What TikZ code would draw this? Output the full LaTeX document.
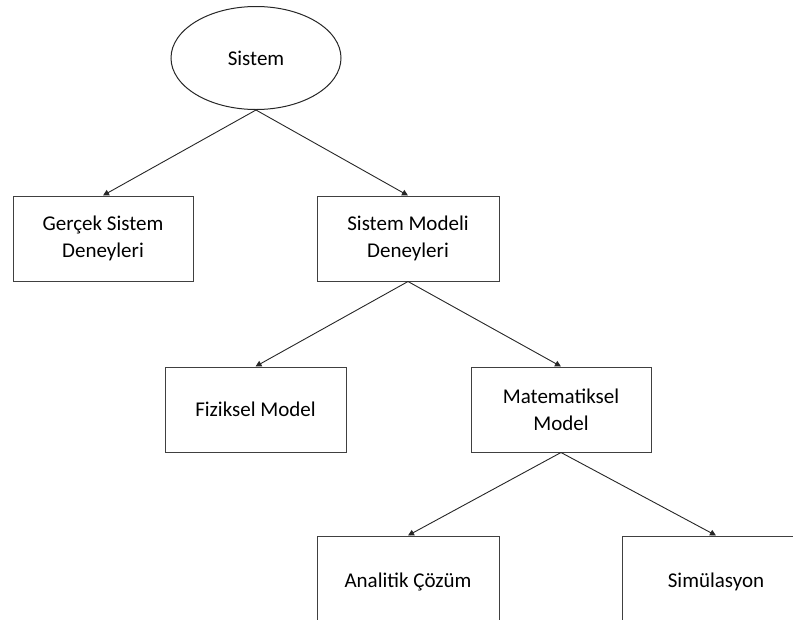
\documentclass[tikz,border=0pt]{standalone}
\usepackage{fontspec}
\setmainfont{Carlito}
\usepackage{tikz}
\usetikzlibrary{positioning, shapes.geometric, arrows.meta}

\begin{document}
\begin{tikzpicture}[
			x=1pt, y=-1pt,
			box/.style={draw=black!75, line width=1pt, rectangle, minimum height=85pt, align=center, font=\fontsize{21}{27}\selectfont},
			oval/.style={draw=black!85, line width=1pt, ellipse, minimum width=170pt, minimum height=103pt, font=\fontsize{21}{27}\selectfont},
			arr/.style={draw=black!85, line width=0.9pt, -{Triangle[length=6pt,width=6pt]}},
			]
			\useasboundingbox (0,0) rectangle (793,619);
			\clip (0,0) rectangle (793,619);
			
			%% ── Top: system ─────────────────────────────────────────────
			\node[oval] (sys) at (256,58) {Sistem};
			
			%% ── Level 1 ─────────────────────────────────────────────────
			\node[box, minimum width=180pt] (gercek) at (103,238.5) {Gerçek Sistem\\Deneyleri};
			\node[box, minimum width=182pt] (smodel) at (408,238.5) {Sistem Modeli\\Deneyleri};
			
			%% ── Level 2 ─────────────────────────────────────────────────
			\node[box, minimum width=181pt] (fizik) at (255.5,409.5) {Fiziksel Model};
			\node[box, minimum width=180pt] (mat) at (561,409.5) {Matematiksel\\Model};
			
			%% ── Level 3 (cut by the page) ───────────────────────────────
			\node[box, minimum width=182pt, minimum height=92pt] (analitik) at (408,582) {Analitik Çözüm};
			\node[box, minimum width=188pt, minimum height=92pt] (simul) at (716,582) {Simülasyon};
			
			\draw[arr] (sys.south) -- (gercek.north);
			\draw[arr] (sys.south) -- (smodel.north);
			\draw[arr] (smodel.south) -- (fizik.north);
			\draw[arr] (smodel.south) -- (mat.north);
			\draw[arr] (mat.south) -- (analitik.north);
			\draw[arr] (mat.south) -- (simul.north);
			
\end{tikzpicture}
\end{document}
